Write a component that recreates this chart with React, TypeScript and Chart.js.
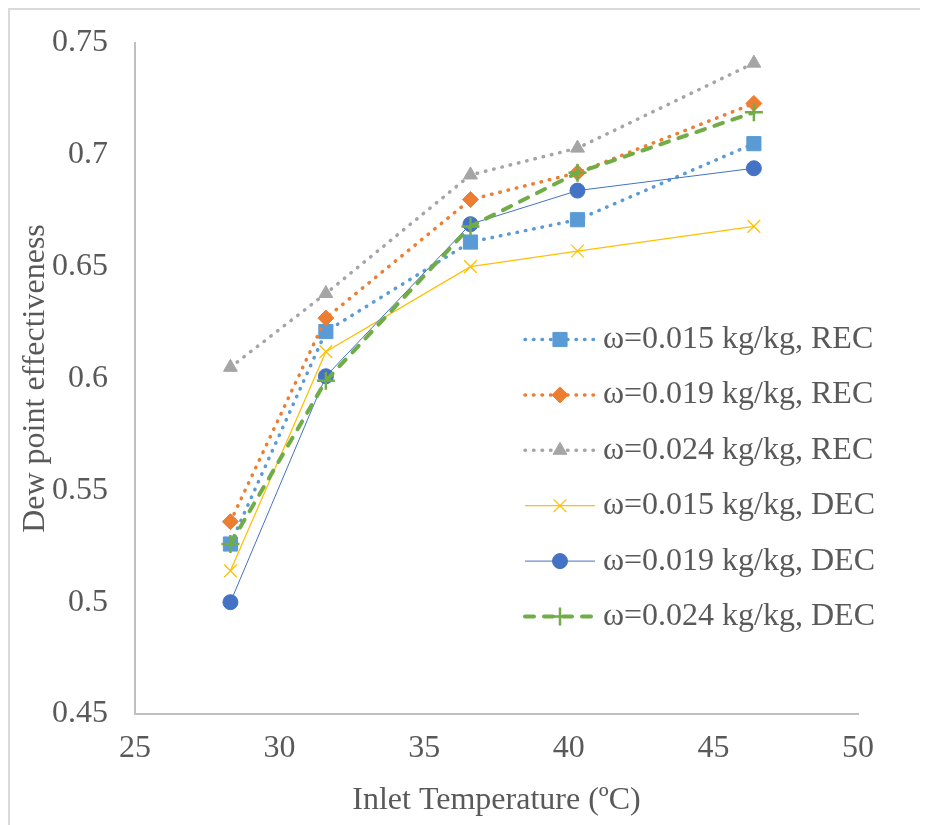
import React, { useEffect, useRef } from "react";
import { Chart, registerables } from "chart.js";
import { drawPoint } from "chart.js/helpers";

Chart.register(...registerables);

const inletTemps = [28.3, 31.6, 36.6, 40.3, 46.4];
const rec015 = [0.526, 0.621, 0.661, 0.671, 0.705];
const rec019 = [0.536, 0.627, 0.680, 0.692, 0.723];
const rec024 = [0.605, 0.638, 0.691, 0.703, 0.741];
const dec015 = [0.514, 0.612, 0.650, 0.657, 0.668];
const dec019 = [0.500, 0.601, 0.669, 0.684, 0.694];
const dec024 = [0.526, 0.599, 0.668, 0.692, 0.719];

const seriesLabels = [
  "ω=0.015 kg/kg, REC",
  "ω=0.019 kg/kg, REC",
  "ω=0.024 kg/kg, REC",
  "ω=0.015 kg/kg, DEC",
  "ω=0.019 kg/kg, DEC",
  "ω=0.024 kg/kg, DEC",
];
const xTickLabels = ["25", "30", "35", "40", "45", "50"];
const yTickLabels = ["0.45", "0.5", "0.55", "0.6", "0.65", "0.7", "0.75"];
const xTitle = "Inlet Temperature (ºC)";
const yTitle = "Dew point effectiveness";

const FONT = '"Liberation Serif", "Times New Roman", serif';
const TEXT = "#595959";

const toPts = (ys: number[]) => inletTemps.map((x, i) => ({ x, y: ys[i] }));

const legendPlugin = {
  id: "customLegend",
  afterDraw(chart: any) {
    const ctx = chart.ctx as CanvasRenderingContext2D;
    const { left, top } = chart.chartArea;
    const x0 = left + 390;
    const x1 = left + 460;
    const tx = left + 468;
    chart.data.datasets.forEach((ds: any, i: number) => {
      const y = top + 296.5 + i * 55.4;
      ctx.save();
      ctx.strokeStyle = ds.borderColor;
      ctx.lineWidth = ds.borderWidth;
      ctx.setLineDash(ds.borderDash || []);
      ctx.lineCap = ds.borderCapStyle || "butt";
      ctx.beginPath();
      ctx.moveTo(x0, y);
      ctx.lineTo(x1, y);
      ctx.stroke();
      ctx.setLineDash([]);
      ctx.lineCap = "butt";
      ctx.fillStyle = ds.pointBackgroundColor;
      ctx.strokeStyle = ds.pointBorderColor;
      ctx.lineWidth = ds.pointBorderWidth;
      drawPoint(
        ctx,
        {
          pointStyle: ds.pointStyle,
          radius: ds.pointRadius,
          borderWidth: ds.pointBorderWidth,
          rotation: 0,
        } as any,
        (x0 + x1) / 2,
        y
      );
      ctx.fillStyle = TEXT;
      ctx.font = `32px ${FONT}`;
      ctx.textBaseline = "middle";
      ctx.textAlign = "left";
      ctx.fillText(ds.label, tx, y);
      ctx.restore();
    });
  },
};

export default function App() {
  const ref = useRef<HTMLCanvasElement | null>(null);

  useEffect(() => {
    document.body.style.overflow = "hidden";
    if (!ref.current) return;
    const dotted = (color: string, style: string, radius: number, i: number) => ({
      label: seriesLabels[i],
      data: toPts([rec015, rec019, rec024][i]),
      borderColor: color,
      backgroundColor: color,
      borderWidth: 3.5,
      borderDash: [0.5, 8],
      borderCapStyle: "round",
      pointStyle: style,
      pointRadius: radius,
      pointBackgroundColor: color,
      pointBorderColor: color,
      pointBorderWidth: 1,
      showLine: true,
      order: 6 - i,
    });
    const chart = new Chart(ref.current, {
      type: "scatter",
      data: {
        datasets: [
          dotted("#5B9BD5", "rect", 10, 0),
          dotted("#ED7D31", "rectRot", 8, 1),
          dotted("#A5A5A5", "triangle", 8, 2),
          {
            label: seriesLabels[3],
            data: toPts(dec015),
            borderColor: "#FFC000",
            backgroundColor: "#FFC000",
            borderWidth: 1.25,
            borderDash: [],
            borderCapStyle: "butt",
            pointStyle: "crossRot",
            pointRadius: 9,
            pointBackgroundColor: "#FFC000",
            pointBorderColor: "#FFC000",
            pointBorderWidth: 1.25,
            showLine: true,
            order: 3,
          },
          {
            label: seriesLabels[4],
            data: toPts(dec019),
            borderColor: "#4472C4",
            backgroundColor: "#4472C4",
            borderWidth: 1,
            borderDash: [],
            borderCapStyle: "butt",
            pointStyle: "circle",
            pointRadius: 7.5,
            pointBackgroundColor: "#4472C4",
            pointBorderColor: "#4472C4",
            pointBorderWidth: 1,
            showLine: true,
            order: 2,
          },
          {
            label: seriesLabels[5],
            data: toPts(dec024),
            borderColor: "#70AD47",
            backgroundColor: "#70AD47",
            borderWidth: 4,
            borderDash: [9, 10],
            borderCapStyle: "round",
            pointStyle: "cross",
            pointRadius: 9,
            pointBackgroundColor: "#70AD47",
            pointBorderColor: "#70AD47",
            pointBorderWidth: 2.5,
            showLine: true,
            order: 1,
          },
        ] as any,
      },
      options: {
        animation: false,
        responsive: false,
        maintainAspectRatio: false,
        layout: { padding: { top: 33, right: 62, left: 0, bottom: 0 } },
        plugins: {
          legend: { display: false },
          tooltip: { enabled: false },
        },
        scales: {
          x: {
            type: "linear",
            min: 25,
            max: 50,
            grid: { display: false, drawTicks: false },
            border: { display: true, color: "#BFBFBF", width: 2 },
            ticks: {
              stepSize: 5,
              padding: 15,
              color: TEXT,
              font: { family: FONT, size: 32 },
              callback: (_v: any, i: number) => xTickLabels[i],
            },
            title: {
              display: true,
              text: xTitle,
              color: TEXT,
              font: { family: FONT, size: 32, lineHeight: 1 },
              padding: { top: 0, bottom: 0 },
            },
            afterFit: (s: any) => {
              s.height = 103;
              s.paddingLeft = 0;
              s.paddingRight = 0;
            },
          },
          y: {
            type: "linear",
            min: 0.45,
            max: 0.75,
            grid: { display: false, drawTicks: false },
            border: { display: true, color: "#BFBFBF", width: 2 },
            ticks: {
              stepSize: 0.05,
              padding: 27,
              color: TEXT,
              font: { family: FONT, size: 32 },
              callback: (_v: any, i: number) => yTickLabels[i],
            },
            title: {
              display: true,
              text: yTitle,
              color: TEXT,
              font: { family: FONT, size: 32, lineHeight: 1.2 },
              padding: { top: 6, bottom: 0 },
            },
            afterFit: (s: any) => {
              s.width = 125;
              s.paddingTop = 0;
              s.paddingBottom = 0;
            },
          },
        },
      } as any,
      plugins: [legendPlugin],
    });
    return () => chart.destroy();
  }, []);

  return (
    <div
      style={{
        width: 930,
        height: 820,
        borderLeft: "2px solid #D9D9D9",
        borderTop: "2px solid #D9D9D9",
      }}
    >
      <canvas ref={ref} width={910} height={807} style={{ display: "block", width: 910, height: 807 }} />
    </div>
  );
}
